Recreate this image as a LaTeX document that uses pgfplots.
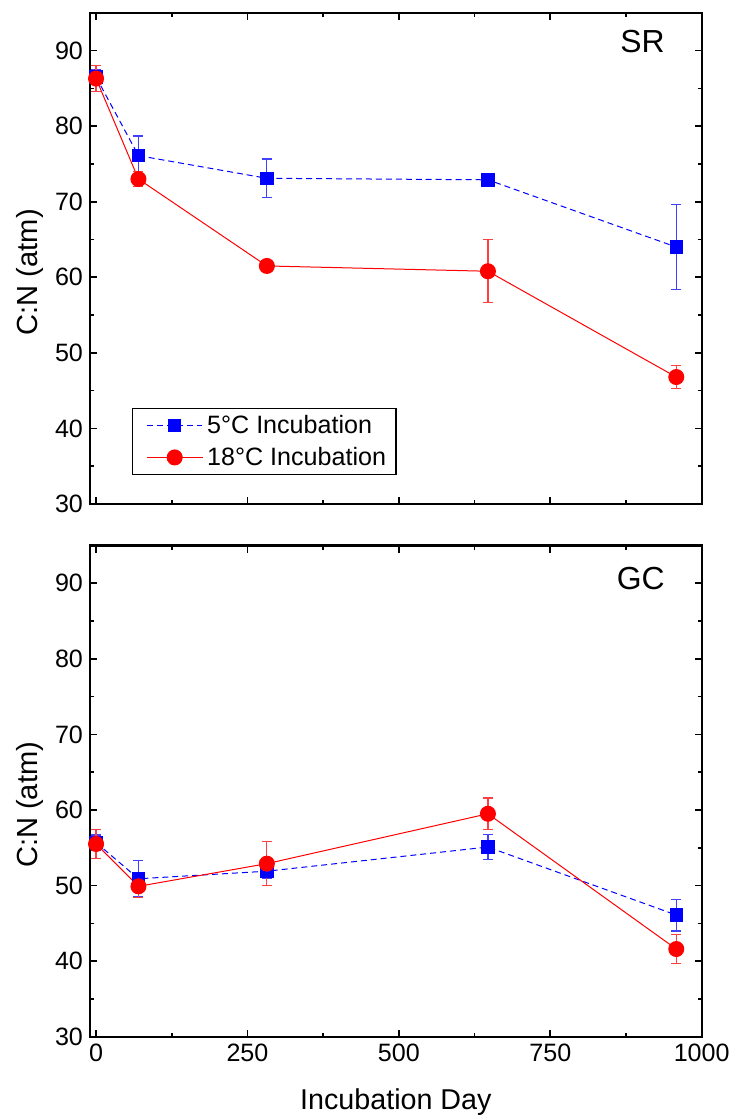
\documentclass[border=0pt]{standalone}
\usepackage{pgfplots}
\usepackage{pgfplotstable}
\pgfplotsset{compat=1.18}
\usepackage{fontspec}
\setmainfont{Liberation Sans}

% C:N ratios (atomic) over the incubation, mean and standard error
\pgfplotstableread{
day cn err
0   86.5 1.0
70  76.1 2.6
282 73.1 2.55
647 72.9 0.4
958 64.0 5.6
}\srcold
\pgfplotstableread{
day cn err
0   86.3 1.7
70  73.0 1.0
282 61.5 0.5
647 60.8 4.15
958 46.8 1.5
}\srwarm
\pgfplotstableread{
day cn err
0   55.7 1.0
70  50.9 2.4
282 51.9 0.9
647 55.1 1.7
958 46.1 2.1
}\gccold
\pgfplotstableread{
day cn err
0   55.5 1.9
70  49.9 1.5
282 52.9 2.9
647 59.5 2.1
958 41.6 1.95
}\gcwarm

\definecolor{cold}{RGB}{0,0,255}
\definecolor{warm}{RGB}{255,0,0}

\pgfplotsset{
  cnaxis/.style={
    scale only axis, width=305.85bp, height=245.6bp,
    xmin=-10, xmax=1000, ymin=30, ymax=95,
    xtick={0,250,...,1000}, minor x tick num=1,
    ytick={30,40,...,90}, minor y tick num=1,
    tick align=inside,
    major tick length=3.6bp, minor tick length=2.1bp,
    axis line style={line width=1.1bp},
    every tick/.style={black, line width=0.8bp},
    tick label style={font=\fontsize{12.6}{14}\selectfont},
    /pgf/number format/assume math mode=true,
    /pgf/number format/1000 sep={},
    ylabel={C:N (atm)},
    ylabel style={font=\fontsize{14.6}{16}\selectfont, at={(axis description cs:-0.098,0.472)}, anchor=center},
    legend cell align=left,
    legend style={font=\fontsize{12.6}{14}\selectfont, draw=black, line width=0.6bp,
      inner xsep=3bp, inner ysep=1.2bp, row sep=1.4bp},
    legend image code/.code={\path (0bp,0bp);
      \draw[mark repeat=2,mark phase=2]
      plot coordinates {(4bp,0bp) (18bp,0bp) (32bp,0bp)};},
  },
  coldplot/.style={cold, line width=0.5bp, densely dashed,
    mark=square*, mark size=3.1bp, mark options={solid, fill=cold},
    error bars/.cd, y dir=both, y explicit,
    error bar style={solid, line width=0.6bp, cold!75},
    error mark options={rotate=90, mark size=2.5bp, line width=0.6bp, cold!75}},
  warmplot/.style={warm, line width=0.5bp, solid,
    mark=*, mark size=3.75bp, mark options={solid, fill=warm},
    error bars/.cd, y dir=both, y explicit,
    error bar style={solid, line width=0.6bp, warm!75},
    error mark options={rotate=90, mark size=2.5bp, line width=0.6bp, warm!75}},
}

\begin{document}
\begin{tikzpicture}
\useasboundingbox (-45bp,-40.65bp) rectangle (321bp,518.35bp);

% upper panel
\begin{axis}[cnaxis, at={(0bp,266.35bp)}, anchor=south west,
  xticklabels={},
  legend style={at={(0.068,0.059)}, anchor=south west}]
  \addplot[coldplot] table[x=day, y=cn, y error=err] {\srcold};
  \addlegendentry{5°C Incubation}
  \addplot[warmplot] table[x=day, y=cn, y error=err] {\srwarm};
  \addlegendentry{18°C Incubation}
  \node[anchor=east, font=\fontsize{16}{18}\selectfont] at (axis description cs:0.951,0.941) {SR};
\end{axis}

% lower panel
\begin{axis}[cnaxis, at={(0bp,0bp)}, anchor=south west,
  xlabel={Incubation Day},
  xlabel style={font=\fontsize{14.4}{16}\selectfont, at={(axis description cs:0.5,-0.134)}, anchor=center}]
  \addplot[coldplot] table[x=day, y=cn, y error=err] {\gccold};
  \addplot[warmplot] table[x=day, y=cn, y error=err] {\gcwarm};
  \node[anchor=east, font=\fontsize{16}{18}\selectfont] at (axis description cs:0.951,0.933) {GC};
\end{axis}
\end{tikzpicture}
\end{document}
